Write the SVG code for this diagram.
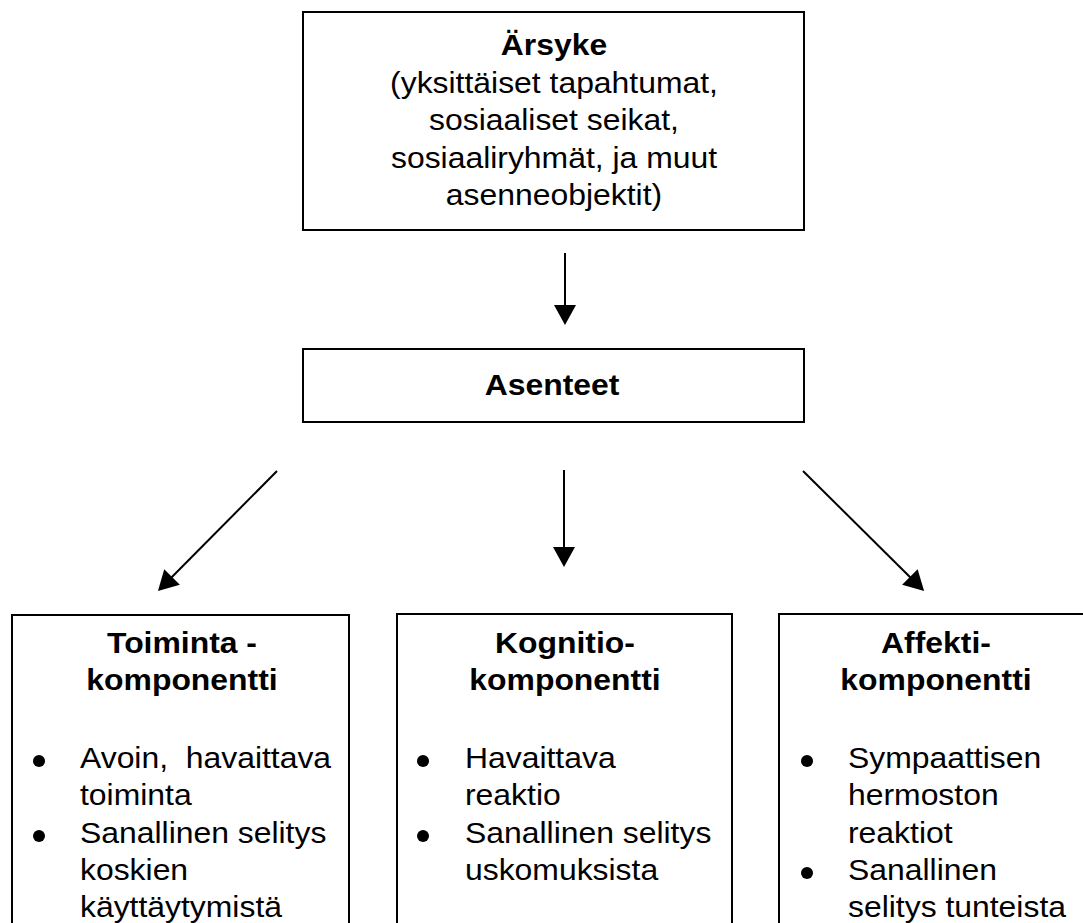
<svg xmlns="http://www.w3.org/2000/svg" width="1083" height="923" viewBox="0 0 1083 923">
  <style>
    .box { fill: #ffffff; stroke: #000000; stroke-width: 2; }
    .t { font-family: "Liberation Sans", Arial, sans-serif; font-size: 29px; fill: #000000; }
    .b { font-weight: bold; }
    .c { text-anchor: middle; }
    .conn { stroke: #000000; stroke-width: 2; fill: none; marker-end: url(#ah); }
    .dot { fill: #000000; }
  </style>
  <defs>
    <marker id="ah" markerUnits="userSpaceOnUse" viewBox="0 0 20 22" markerWidth="20" markerHeight="22" refX="10" refY="11" orient="auto">
      <path d="M0,0 L20,11 L0,22 z" fill="#000000"/>
    </marker>
  </defs>
  <rect width="1083" height="923" fill="#ffffff"/>

  <g id="arsyke">
    <rect class="box" x="303" y="12" width="501" height="218"/>
    <text class="t b c" transform="translate(554 55) scale(1.1 1)">Ärsyke</text>
    <text class="t c" transform="translate(554 93) scale(1.1 1)">(yksittäiset tapahtumat,</text>
    <text class="t c" transform="translate(554 130) scale(1.1 1)">sosiaaliset seikat,</text>
    <text class="t c" transform="translate(554 168) scale(1.1 1)">sosiaaliryhmät, ja muut</text>
    <text class="t c" transform="translate(554 205) scale(1.1 1)">asenneobjektit)</text>
  </g>

  <g id="asenteet">
    <rect class="box" x="303" y="349" width="501" height="73"/>
    <text class="t b c" transform="translate(552 395) scale(1.1 1)">Asenteet</text>
  </g>

  <g id="toiminta">
    <rect class="box" x="12" y="615" width="337" height="330"/>
    <text class="t b c" transform="translate(182 653) scale(1.1 1)">Toiminta -</text>
    <text class="t b c" transform="translate(182 690) scale(1.1 1)">komponentti</text>
    <circle class="dot" cx="39" cy="761" r="6"/>
    <text class="t" xml:space="preserve" transform="translate(80 768) scale(1.1 1)">Avoin,  havaittava</text>
    <text class="t" transform="translate(80 805) scale(1.1 1)">toiminta</text>
    <circle class="dot" cx="39" cy="836" r="6"/>
    <text class="t" transform="translate(80 843) scale(1.1 1)">Sanallinen selitys</text>
    <text class="t" transform="translate(80 880) scale(1.1 1)">koskien</text>
    <text class="t" transform="translate(80 917) scale(1.1 1)">käyttäytymistä</text>
  </g>

  <g id="kognitio">
    <rect class="box" x="397" y="614" width="335" height="330"/>
    <text class="t b c" transform="translate(565 653) scale(1.1 1)">Kognitio-</text>
    <text class="t b c" transform="translate(565 690) scale(1.1 1)">komponentti</text>
    <circle class="dot" cx="423" cy="761" r="6"/>
    <text class="t" transform="translate(465 768) scale(1.1 1)">Havaittava</text>
    <text class="t" transform="translate(465 805) scale(1.1 1)">reaktio</text>
    <circle class="dot" cx="423" cy="836" r="6"/>
    <text class="t" transform="translate(465 843) scale(1.1 1)">Sanallinen selitys</text>
    <text class="t" transform="translate(465 880) scale(1.1 1)">uskomuksista</text>
  </g>

  <g id="affekti">
    <rect class="box" x="779" y="614" width="312" height="330"/>
    <text class="t b c" transform="translate(936 653) scale(1.1 1)">Affekti-</text>
    <text class="t b c" transform="translate(936 690) scale(1.1 1)">komponentti</text>
    <circle class="dot" cx="807" cy="761" r="6"/>
    <text class="t" transform="translate(848 768) scale(1.1 1)">Sympaattisen</text>
    <text class="t" transform="translate(848 805) scale(1.1 1)">hermoston</text>
    <text class="t" transform="translate(848 843) scale(1.1 1)">reaktiot</text>
    <circle class="dot" cx="807" cy="873" r="6"/>
    <text class="t" transform="translate(848 880) scale(1.1 1)">Sanallinen</text>
    <text class="t" transform="translate(848 917) scale(1.1 1)">selitys tunteista</text>
  </g>

  <g id="connectors">
    <line class="conn" x1="565" y1="253" x2="565" y2="315"/>
    <line class="conn" x1="277" y1="471" x2="165" y2="584"/>
    <line class="conn" x1="564" y1="470" x2="564" y2="557"/>
    <line class="conn" x1="803" y1="471" x2="917" y2="584"/>
  </g>
</svg>
